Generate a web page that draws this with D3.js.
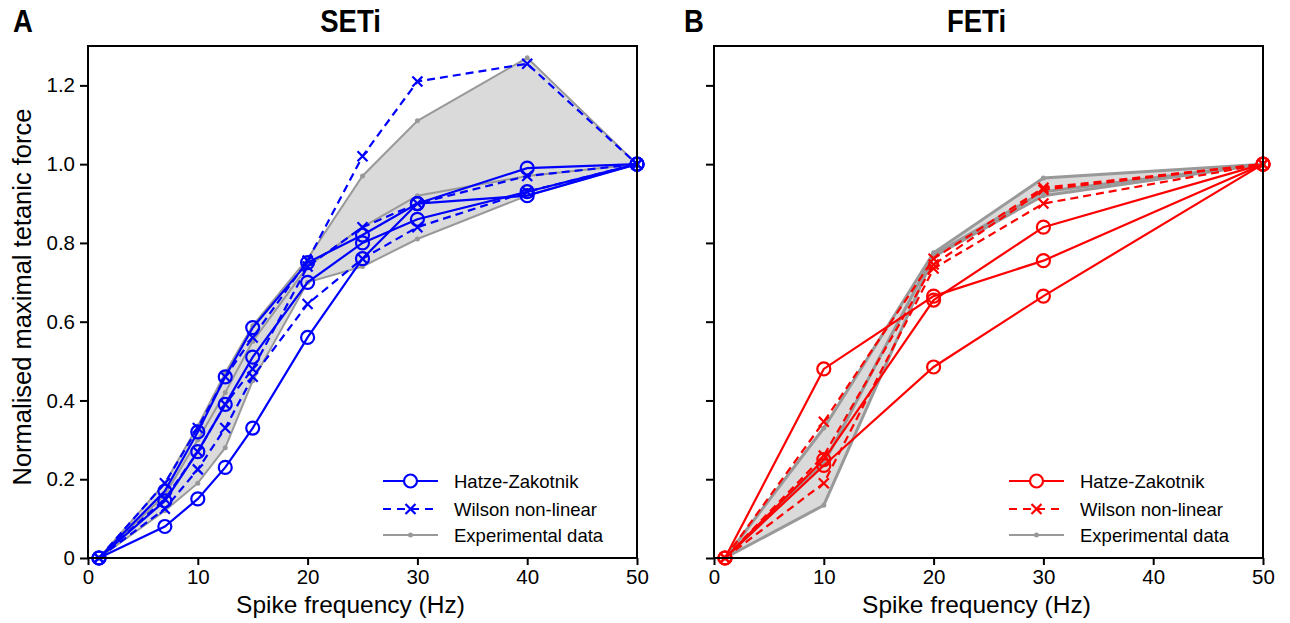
<!DOCTYPE html>
<html>
<head>
<meta charset="utf-8">
<script src="https://cdn.jsdelivr.net/npm/d3@7"></script>
<style>
  body { margin: 0; background: #fff; }
  text { font-family: "Liberation Sans", Arial, sans-serif; }
</style>
</head>
<body>
<svg id="chart" width="1290" height="623"></svg>
<script>
// ---- SETi data (panel A) ----
var setiFreq = [1, 7, 10, 12.5, 15, 20, 25, 30, 40, 50];
var setiHz1 = [0, 0.17, 0.32, 0.46, 0.585, 0.75, 0.82, 0.90, 0.99, 1.0];
var setiHz2 = [0, 0.145, 0.27, 0.39, 0.51, 0.70, 0.80, 0.86, 0.93, 1.0];
var setiHz3 = [0, 0.08, 0.15, 0.23, 0.33, 0.56, 0.76, 0.90, 0.92, 1.0];
var setiWil1 = [0, 0.19, 0.33, 0.46, 0.56, 0.755, 1.02, 1.21, 1.255, 1.0];
var setiWil2 = [0, 0.15, 0.27, 0.39, 0.48, 0.74, 0.84, 0.90, 0.97, 1.0];
var setiWil3 = [0, 0.125, 0.225, 0.33, 0.46, 0.645, 0.76, 0.84, 0.93, 1.0];
var setiExp1 = [0, 0.19, 0.335, 0.47, 0.59, 0.76, 0.97, 1.11, 1.27, 1.0];
var setiExp2 = [0, 0.16, 0.30, 0.42, 0.55, 0.74, 0.84, 0.92, 0.97, 1.0];
var setiExp3 = [0, 0.12, 0.19, 0.28, 0.45, 0.70, 0.74, 0.81, 0.92, 1.0];

// ---- FETi data (panel B) ----
var fetiFreq = [1, 10, 20, 30, 50];
var fetiHz1 = [0, 0.48, 0.665, 0.755, 1.0];
var fetiHz2 = [0, 0.25, 0.655, 0.84, 1.0];
var fetiHz3 = [0, 0.235, 0.485, 0.665, 1.0];
var fetiWil1 = [0, 0.346, 0.76, 0.94, 1.0];
var fetiWil2 = [0, 0.26, 0.745, 0.935, 1.0];
var fetiWil3 = [0, 0.19, 0.735, 0.90, 1.0];
var fetiExp1 = [0, 0.33, 0.775, 0.965, 1.0];
var fetiExp2 = [0, 0.24, 0.77, 0.93, 1.0];
var fetiExp3 = [0, 0.134, 0.765, 0.92, 1.0];

var xTicks = [0, 10, 20, 30, 40, 50];
var yTicks = [0, 0.2, 0.4, 0.6, 0.8, 1.0, 1.2];
var legendLabels = ["Hatze-Zakotnik", "Wilson non-linear", "Experimental data"];

var svg = d3.select("#chart");
var plotTop = 46, plotBottom = 558, boxW = 549;
var grey = "#999999", fillGrey = "#dadada";

var y = d3.scaleLinear().domain([0, 1.3]).range([plotBottom, plotTop]);

function zip(xs, ys) {
    return xs.map(function (f, i) { return { x: f, y: ys[i] }; });
}

// bold condensed heading text
function heading(g, cx, txt, anchor) {
    g.append("text")
        .attr("transform", "translate(" + cx + ",32) scale(0.86,1)")
        .attr("text-anchor", anchor).attr("font-size", 32).attr("font-weight", "bold")
        .text(txt);
}

function drawPanel(opt) {
    var x = d3.scaleLinear().domain([0, 50]).range([opt.left, opt.left + boxW]);
    var g = svg.append("g");
    var line = d3.line().x(d => x(d.x)).y(d => y(d.y));

    // shaded envelope of the experimental data
    var env = opt.freq.map(function (f, i) {
        var vals = opt.exp.map(s => s[i]);
        return { x: f, lo: d3.min(vals), hi: d3.max(vals) };
    });
    g.append("path")
        .attr("d", d3.area().x(d => x(d.x)).y0(d => y(d.lo)).y1(d => y(d.hi))(env))
        .attr("fill", fillGrey);

    // experimental lines with small dots
    opt.exp.forEach(function (s) {
        var pts = zip(opt.freq, s);
        g.append("path").attr("d", line(pts))
            .attr("fill", "none").attr("stroke", grey).attr("stroke-width", opt.greyW);
        g.selectAll(null).data(pts).enter().append("circle")
            .attr("cx", d => x(d.x)).attr("cy", d => y(d.y)).attr("r", 2.5)
            .attr("fill", grey);
    });

    // Wilson non-linear: dashed + x markers
    opt.wil.forEach(function (s) {
        var pts = zip(opt.freq, s);
        g.append("path").attr("d", line(pts))
            .attr("fill", "none").attr("stroke", opt.color).attr("stroke-width", 2.2)
            .attr("stroke-dasharray", "8,5");
        g.selectAll(null).data(pts).enter().append("path")
            .attr("d", "M-5,-5L5,5M-5,5L5,-5")
            .attr("transform", d => "translate(" + x(d.x) + "," + y(d.y) + ")")
            .attr("stroke", opt.color).attr("stroke-width", 2.2);
    });

    // Hatze-Zakotnik: solid + open circles
    opt.hz.forEach(function (s) {
        var pts = zip(opt.freq, s);
        g.append("path").attr("d", line(pts))
            .attr("fill", "none").attr("stroke", opt.color).attr("stroke-width", 2.2);
        g.selectAll(null).data(pts).enter().append("circle")
            .attr("cx", d => x(d.x)).attr("cy", d => y(d.y)).attr("r", 6.5)
            .attr("fill", "none").attr("stroke", opt.color).attr("stroke-width", 2.2);
    });

    // frame
    g.append("rect")
        .attr("x", opt.left).attr("y", plotTop).attr("width", boxW).attr("height", plotBottom - plotTop)
        .attr("fill", "none").attr("stroke", "#000").attr("stroke-width", 2);

    // axes
    var xAxis = d3.axisBottom(x).tickValues(xTicks).tickSize(7).tickPadding(4);
    var gx = g.append("g").attr("transform", "translate(0," + plotBottom + ")").call(xAxis);
    var yAxis = d3.axisLeft(y).tickValues(yTicks).tickSize(8).tickPadding(5)
        .tickFormat(d => d === 0 ? "0" : d3.format(".1f")(d));
    if (!opt.yLabels) yAxis.tickFormat("");
    var gy = g.append("g").attr("transform", "translate(" + opt.left + ",0)").call(yAxis);
    [gx, gy].forEach(function (a) {
        a.select(".domain").remove();
        a.selectAll(".tick line").attr("stroke", "#000").attr("stroke-width", 2);
        a.selectAll(".tick text").attr("font-size", 20.5).attr("fill", "#000")
            .style("font-family", "'Liberation Sans', Arial, sans-serif");
    });

    // axis label
    g.append("text").attr("x", opt.left + boxW / 2 - 12).attr("y", 613)
        .attr("text-anchor", "middle").attr("font-size", 24.5).text("Spike frequency (Hz)");

    // title and panel letter
    heading(g, opt.left + boxW / 2 - 12, opt.title, "middle");
    heading(g, opt.letterX, opt.letter, "start");

    // legend
    var lx0 = opt.left + 295, lx1 = opt.left + 350, lm = (lx0 + lx1) / 2;
    var rows = [481, 509, 535];
    var lg = g.append("g");
    lg.append("line").attr("x1", lx0).attr("x2", lx1).attr("y1", rows[0]).attr("y2", rows[0])
        .attr("stroke", opt.color).attr("stroke-width", 2.2);
    lg.append("circle").attr("cx", lm).attr("cy", rows[0]).attr("r", 6.5)
        .attr("fill", "#fff").attr("stroke", opt.color).attr("stroke-width", 2.2);
    lg.append("line").attr("x1", lx0).attr("x2", lx1).attr("y1", rows[1]).attr("y2", rows[1])
        .attr("stroke", opt.color).attr("stroke-width", 2.2).attr("stroke-dasharray", "8,6");
    lg.append("path").attr("d", "M-5,-5L5,5M-5,5L5,-5")
        .attr("transform", "translate(" + lm + "," + rows[1] + ")")
        .attr("stroke", opt.color).attr("stroke-width", 2.2);
    lg.append("line").attr("x1", lx0).attr("x2", lx1).attr("y1", rows[2]).attr("y2", rows[2])
        .attr("stroke", grey).attr("stroke-width", 2);
    lg.append("circle").attr("cx", lm).attr("cy", rows[2]).attr("r", 2.5).attr("fill", grey);
    legendLabels.forEach(function (t, i) {
        lg.append("text").attr("x", opt.left + 366).attr("y", rows[i] + 6.5)
            .attr("font-size", 18.5).text(t);
    });
}

drawPanel({
    left: 88, title: "SETi", letter: "A", letterX: 13, color: "#0000ff", yLabels: true, greyW: 2,
    freq: setiFreq,
    hz: [setiHz1, setiHz2, setiHz3],
    wil: [setiWil1, setiWil2, setiWil3],
    exp: [setiExp1, setiExp2, setiExp3]
});
drawPanel({
    left: 714, title: "FETi", letter: "B", letterX: 684, color: "#ff0000", yLabels: false, greyW: 3,
    freq: fetiFreq,
    hz: [fetiHz1, fetiHz2, fetiHz3],
    wil: [fetiWil1, fetiWil2, fetiWil3],
    exp: [fetiExp1, fetiExp2, fetiExp3]
});

// y axis label
svg.append("text")
    .attr("transform", "translate(31,297) rotate(-90)")
    .attr("text-anchor", "middle").attr("font-size", 25.5)
    .text("Normalised maximal tetanic force");
</script>
</body>
</html>
